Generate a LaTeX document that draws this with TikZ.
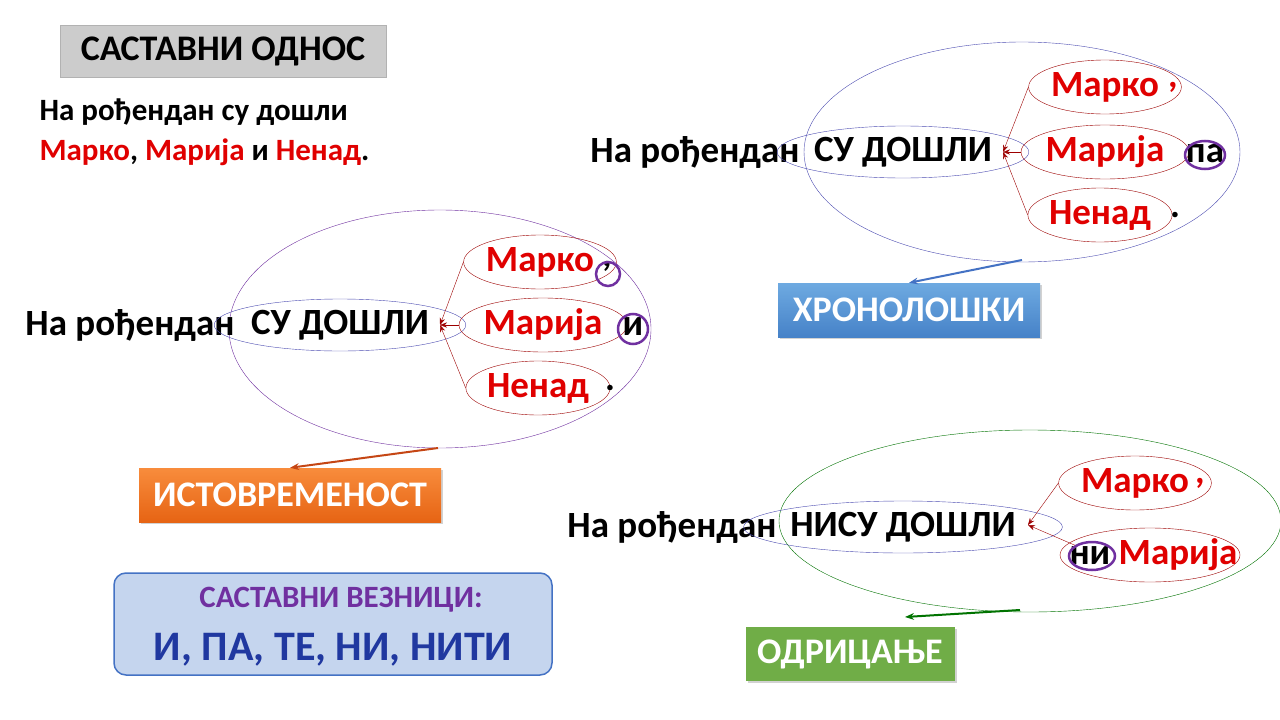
\documentclass[tikz,border=0pt]{standalone}
\usepackage{fontspec}
\setmainfont{Carlito}
\usetikzlibrary{arrows.meta,shapes.geometric,shadows}
\definecolor{rd}{HTML}{E00000}
\definecolor{pur}{HTML}{7030A0}
\definecolor{orA}{RGB}{197,70,20}
\definecolor{orT}{RGB}{248,140,60}
\definecolor{orB}{RGB}{230,100,20}
\definecolor{blT}{RGB}{110,170,225}
\definecolor{blB}{RGB}{70,130,200}
\definecolor{blA}{RGB}{68,114,196}
\definecolor{grF}{RGB}{112,173,71}
\definecolor{bxF}{RGB}{197,213,238}
\definecolor{dkB}{RGB}{32,56,160}
\tikzset{
 big/.style={font=\bfseries\fontsize{37}{37}\selectfont},
 nm/.style={draw=rd!70!black,ellipse,inner sep=0pt,minimum height=54pt,thin},
 nmt/.style={big,text=rd},
 vb/.style={big,draw=blue!40!gray,ellipse,inner sep=0pt,minimum height=52pt,thin},
 cir/.style={draw=pur,line width=2.5pt,ellipse,inner sep=0pt},
 lnk/.style={-{Stealth[length=7pt]},rd!70!black,thin},
 lab/.style={font=\bfseries\fontsize{36}{36}\selectfont,text=white,minimum height=54pt,drop shadow={opacity=0.35}}
}
\begin{document}
\begin{tikzpicture}[x=1pt,y=-1pt]
\useasboundingbox[fill=white] (0,0) rectangle (1280,720);
% title
\node[fill=gray!40,draw=gray!60,minimum width=326pt,minimum height=52pt,font=\bfseries\fontsize{36}{36}\selectfont] (t) at (223,51) {САСТАВНИ ОДНОС};
\node[anchor=west,font=\bfseries\fontsize{31}{31}\selectfont] (s1) at (36,112) {На рођендан су дошли};
\node[anchor=west,font=\bfseries\fontsize{31}{31}\selectfont] (s2) at (36,152) {\textcolor{rd}{Марко}, \textcolor{rd}{Марија} и \textcolor{rd}{Ненад}.};
% diagram 1
\draw[pur,thin] (440,329) ellipse[x radius=211,y radius=119];
\node[big,anchor=east] (a0) at (238,325) {На рођендан};
\node[vb,minimum width=200pt] (a1) at (340,325) {СУ ДОШЛИ};
\coordinate (ap) at (440,325);
\node[nm,nmt,minimum width=128pt] (am) at (540,262) {Марко};
\node[nm,nmt,minimum width=134pt] (aa) at (543,325) {Марија};
\node[nm,nmt,minimum width=124pt] (an) at (538,388) {Ненад};
\draw[lnk] (am.west) -- (ap);
\draw[lnk] (aa.west) -- (ap);
\draw[lnk] (an.west) -- (ap);
\node[big] (ac) at (607,266) {,};
\node[cir,minimum width=24pt,minimum height=24pt] (acc) at (608,274) {};
\node[big] (ai) at (633,327) {и};
\node[cir,minimum width=30pt,minimum height=30pt] (aic) at (633,329) {};
\node[big] (ad) at (610,388) {.};
\coordinate (aar) at (438,448);
\node[lab,top color=orT,bottom color=orB,minimum width=302pt] (ab) at (290,495) {ИСТОВРЕМЕНОСТ};
\draw[-{Stealth[length=9pt]},line width=2pt,orA] (aar) -- (ab.north);
% diagram 2
\draw[blue!40!gray,thin] (1022,152) ellipse[x radius=218,y radius=110];
\node[big,anchor=east] (b0) at (803,152) {На рођендан};
\node[vb,minimum width=200pt] (b1) at (903,152) {СУ ДОШЛИ};
\coordinate (bp) at (1003,152);
\node[nm,nmt,minimum width=128pt] (bm) at (1105,87) {Марко};
\node[nm,nmt,minimum width=134pt] (ba) at (1105,152) {Марија};
\node[nm,nmt,minimum width=120pt] (bn) at (1100,215) {Ненад};
\draw[lnk] (bm.west) -- (bp);
\draw[lnk] (ba.west) -- (bp);
\draw[lnk] (bn.west) -- (bp);
\node[big,text=rd] (bc) at (1173,87) {,};
\node[big] (bpa) at (1205,153) {па};
\node[cir,minimum width=40pt,minimum height=28pt] (bpc) at (1205,155) {};
\node[big] (bd) at (1175,215) {.};
\coordinate (bar) at (1022,260);
\node[lab,top color=blT,bottom color=blB,minimum width=262pt] (bb) at (909,310) {ХРОНОЛОШКИ};
\draw[-{Stealth[length=9pt]},line width=2pt,blA] (bar) -- (bb.north);
% diagram 3
\draw[green!45!black,thin] (1030,521) ellipse[x radius=251,y radius=91];
\node[big,anchor=east] (c0) at (780,527) {На рођендан};
\node[vb,minimum width=250pt] (c1) at (903,527) {НИСУ ДОШЛИ};
\coordinate (cp) at (1028,525);
\node[nm,nmt,minimum width=130pt] (cm) at (1135,483) {Марко};
\node[nm,minimum width=180pt] (ca) at (1150,555) {};
\node[big,anchor=west] (cni) at (1066,555) {ни \textcolor{rd}{Марија}};
\node[cir,minimum width=46pt,minimum height=28pt] (cnc) at (1092,556) {};
\draw[lnk] (cm.west) -- (cp);
\draw[lnk] (cnc.north west) -- (cp);
\node[big,text=rd] (cc) at (1200,483) {,};
\coordinate (car) at (1020,610);
\coordinate (cat) at (905,617);
\node[lab,fill=grF,minimum width=209pt] (cb) at (850,654) {ОДРИЦАЊЕ};
\draw[-{Stealth[length=9pt]},line width=2pt,green!45!black] (car) -- (cat);
% conjunctions box
\node[draw=blA,line width=1.5pt,rounded corners=12pt,fill=bxF,minimum width=438pt,minimum height=102pt] (k) at (333,624) {};
\node[font=\bfseries\fontsize{31}{31}\selectfont,text=pur] (k1) at (341,600) {САСТАВНИ ВЕЗНИЦИ:};
\node[font=\bfseries\fontsize{42}{42}\selectfont,text=dkB] (k2) at (333,650) {И, ПА, ТЕ, НИ, НИТИ};
\end{tikzpicture}
\end{document}
